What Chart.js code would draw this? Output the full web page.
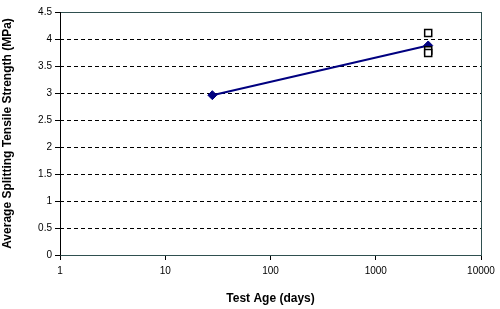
<!DOCTYPE html>
<html>
<head>
<meta charset="utf-8">
<script src="https://cdn.jsdelivr.net/npm/chart.js@4/dist/chart.umd.min.js"></script>
<style>
  html, body { margin: 0; padding: 0; background: #fff; }
  #wrap { width: 500px; height: 309px; }
</style>
</head>
<body>
<div id="wrap"><canvas id="chart" width="500" height="309"></canvas></div>
<script>
// test age (days) and strength (MPa)
const meanAges = [28, 3150];
const meanStrength = [2.96, 3.88];
const specimenAges = [3150, 3150, 3150];
const specimenStrength = [4.11, 3.79, 3.74];

const xTicks = [1, 10, 100, 1000, 10000];
const yTicks = [0, 0.5, 1, 1.5, 2, 2.5, 3, 3.5, 4, 4.5];

const FONT = '"Liberation Sans", Arial, sans-serif';

// frame round the plot area
const frame = {
  id: 'frame',
  afterDraw(chart) {
    const { ctx, chartArea: a } = chart;
    ctx.save();
    ctx.strokeStyle = '#2f4f4f';
    ctx.lineWidth = 1;
    ctx.strokeRect(a.left + 0.5, a.top + 0.5, a.right - a.left, a.bottom - a.top);
    ctx.strokeStyle = '#000';
    ctx.beginPath();
    ctx.moveTo(a.left + 0.5, a.top);
    ctx.lineTo(a.left + 0.5, a.bottom + 0.5);
    ctx.stroke();
    ctx.restore();
  }
};

new Chart(document.getElementById('chart'), {
  type: 'scatter',
  data: {
    datasets: [
      {
        data: meanAges.map((x, i) => ({ x, y: meanStrength[i] })),
        showLine: true,
        borderColor: '#000080',
        borderWidth: 2,
        backgroundColor: '#000080',
        pointStyle: 'rectRot',
        pointRadius: 4.5,
        pointBorderWidth: 1,
        order: 2,
      },
      {
        data: specimenAges.map((x, i) => ({ x, y: specimenStrength[i] })),
        showLine: false,
        borderColor: '#000',
        backgroundColor: '#fff',
        pointStyle: 'rect',
        pointRadius: 5,
        pointBorderWidth: 1.5,
        order: 1,
      },
    ],
  },
  options: {
    responsive: false,
    animation: false,
    layout: { padding: { top: 12, right: 19, left: 0, bottom: 0 } },
    plugins: { legend: { display: false }, tooltip: { enabled: false } },
    scales: {
      x: {
        type: 'logarithmic',
        min: 1,
        max: 10000,
        afterBuildTicks: s => { s.ticks = xTicks.map(v => ({ value: v })); },
        afterFit: s => { s.height = 54; },
        ticks: {
          color: '#000',
          font: { family: FONT, size: 10 },
          padding: 5,
          maxRotation: 0,
          callback: v => String(v),
        },
        grid: {
          drawOnChartArea: false,
          drawTicks: true,
          tickLength: 5,
          tickColor: '#000',
        },
        border: { display: false },
        title: {
          display: true,
          text: 'Test Age (days)',
          color: '#000',
          font: { family: FONT, size: 12, weight: 'bold' },
          padding: { top: 0, bottom: 3 },
        },
      },
      y: {
        min: 0,
        max: 4.5,
        afterBuildTicks: s => { s.ticks = yTicks.map(v => ({ value: v })); },
        afterFit: s => { s.width = 60; },
        ticks: {
          color: '#000',
          font: { family: FONT, size: 10 },
          padding: 3,
          callback: v => String(v),
        },
        grid: {
          color: c => (c.tick && (c.tick.value === 0 || c.tick.value === 4.5)) ? 'rgba(0,0,0,0)' : '#000',
          tickColor: '#000',
          tickBorderDash: [],
          tickLength: 5,
          lineWidth: 1,
        },
        border: { display: false, dash: [4, 3] },
        title: {
          display: true,
          text: 'Average Splitting Tensile Strength (MPa)',
          color: '#000',
          font: { family: FONT, size: 12, weight: 'bold' },
          padding: { top: 0, bottom: 0 },
        },
      },
    },
  },
  plugins: [frame],
});
</script>
</body>
</html>
